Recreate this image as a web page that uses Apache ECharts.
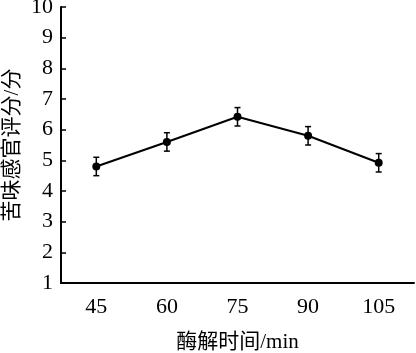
<!DOCTYPE html>
<html>
<head>
<meta charset="utf-8">
<script src="https://cdn.jsdelivr.net/npm/echarts@6/dist/echarts.min.js"></script>
<style>
html,body{margin:0;padding:0;background:#fff;}
#main{width:416px;height:353px;}
</style>
</head>
<body>
<div id="main"></div>
<script>
// 酶解时间 (min)
var times = ['45', '60', '75', '90', '105'];
// 苦味感官评分
var scores = [4.8, 5.6, 6.42, 5.8, 4.92];
// 误差
var errs = [0.3, 0.3, 0.3, 0.3, 0.3];

var errData = [];
for (var i = 0; i < times.length; i++) {
    errData.push([i, scores[i] - errs[i], scores[i] + errs[i]]);
}

var font = 'Liberation Serif, "Times New Roman", "Noto Sans CJK SC"';

var chart = echarts.init(document.getElementById('main'));
chart.setOption({
    backgroundColor: '#fff',
    animation: false,
    grid: {left: 61, right: 2, top: 7, bottom: 70, outerBoundsMode: 'none', containLabel: false},
    xAxis: {
        type: 'category',
        data: times,
        boundaryGap: true,
        name: '酶解时间/min',
        nameLocation: 'middle',
        nameGap: 49,
        nameMoveOverlap: false,
        nameTextStyle: {color: '#000', fontSize: 21, fontFamily: font},
        axisLine: {lineStyle: {color: '#000', width: 2}},
        axisTick: {inside: true, alignWithLabel: true, length: 7, lineStyle: {color: '#000', width: 1.5}},
        axisLabel: {color: '#000', fontSize: 22, fontFamily: font, margin: 13},
        splitLine: {show: false}
    },
    yAxis: {
        type: 'value',
        min: 1,
        max: 10,
        interval: 1,
        name: '苦味感官评分/分',
        nameLocation: 'middle',
        nameGap: 38,
        nameMoveOverlap: false,
        nameTextStyle: {color: '#000', fontSize: 21, fontFamily: font},
        axisLine: {show: true, lineStyle: {color: '#000', width: 2}},
        axisTick: {show: true, inside: true, length: 5, lineStyle: {color: '#000', width: 1.5}},
        axisLabel: {color: '#000', fontSize: 22, fontFamily: font, margin: 8},
        splitLine: {show: false}
    },
    series: [
        {
            type: 'line',
            data: scores,
            symbol: 'circle',
            symbolSize: 8,
            lineStyle: {color: '#000', width: 2},
            itemStyle: {color: '#000'},
            z: 3
        },
        {
            type: 'custom',
            data: errData,
            z: 4,
            renderItem: function (params, api) {
                var lo = api.coord([api.value(0), api.value(1)]);
                var hi = api.coord([api.value(0), api.value(2)]);
                var w = 3;
                var st = {stroke: '#000', lineWidth: 1.5};
                return {
                    type: 'group',
                    children: [
                        {type: 'line', shape: {x1: hi[0], y1: hi[1], x2: lo[0], y2: lo[1]}, style: st},
                        {type: 'line', shape: {x1: hi[0] - w, y1: hi[1], x2: hi[0] + w, y2: hi[1]}, style: st},
                        {type: 'line', shape: {x1: lo[0] - w, y1: lo[1], x2: lo[0] + w, y2: lo[1]}, style: st}
                    ]
                };
            }
        }
    ]
});
</script>
</body>
</html>
